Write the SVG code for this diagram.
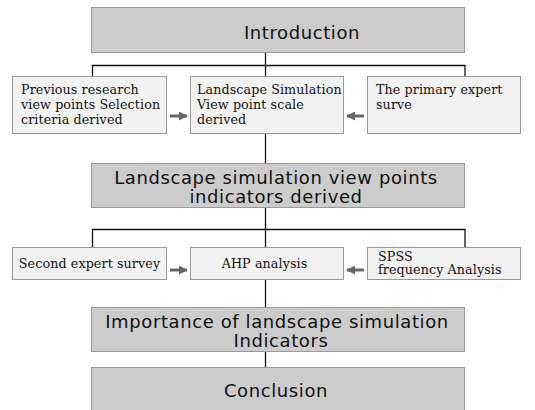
<svg xmlns="http://www.w3.org/2000/svg" width="535" height="410" viewBox="0 0 535 410">
<style>
.big{fill:#cccccc;stroke:#999999;stroke-width:1}
.small{fill:#f2f2f2;stroke:#999999;stroke-width:1}
.bt{font-family:"DejaVu Sans",sans-serif;font-size:18px;letter-spacing:0.6px;fill:#111;text-anchor:middle}
.st{font-family:"DejaVu Serif",serif;font-size:12.7px;letter-spacing:0.1px;fill:#111}
.c{fill:none;stroke:#111;stroke-width:1.3}
.a{stroke:#666;stroke-width:3;fill:none}
</style>
<defs>
<marker id="ah" viewBox="0 0 10 10" refX="9" refY="5" markerWidth="3" markerHeight="3" orient="auto" markerUnits="strokeWidth">
<path d="M0,0 L10,5 L0,10 z" fill="#666"/>
</marker>
</defs>
<rect width="535" height="410" fill="#fff"/>
<g id="connectors">
<path class="c" d="M265.5,53 V76 M92.5,76 V65.5 H465 V76 M265.5,134 V163 M265.5,208 V247 M92.5,247 V229.5 H465 V247 M265.5,279 V307 M265.5,352 V367"/>
<line class="a" x1="170" y1="116" x2="187" y2="116" marker-end="url(#ah)"/>
<line class="a" x1="364" y1="116" x2="347" y2="116" marker-end="url(#ah)"/>
<line class="a" x1="170" y1="270" x2="187" y2="270" marker-end="url(#ah)"/>
<line class="a" x1="364" y1="270" x2="347" y2="270" marker-end="url(#ah)"/>
</g>
<g id="intro">
<rect class="big" x="91.5" y="7.5" width="373" height="45"/>
<text class="bt" x="302" y="39">Introduction</text>
</g>
<g id="prev">
<rect class="small" x="12.5" y="76.5" width="154" height="57"/>
<text class="st"><tspan x="21" y="93.5">Previous research</tspan><tspan x="21" y="108.5">view points Selection</tspan><tspan x="21" y="123.5">criteria derived</tspan></text>
</g>
<g id="scale">
<rect class="small" x="190.5" y="76.5" width="153" height="57"/>
<text class="st"><tspan x="197" y="93.5">Landscape Simulation</tspan><tspan x="197" y="108.5">View point scale</tspan><tspan x="197" y="123.5">derived</tspan></text>
</g>
<g id="primary">
<rect class="small" x="367.5" y="76.5" width="153" height="57"/>
<text class="st"><tspan x="376" y="93.5">The primary expert</tspan><tspan x="376" y="108.5">surve</tspan></text>
</g>
<g id="indicators">
<rect class="big" x="91.5" y="163.5" width="373" height="44"/>
<text class="bt"><tspan x="276" y="184">Landscape simulation view points</tspan><tspan x="276" y="202.5">indicators derived</tspan></text>
</g>
<g id="second">
<rect class="small" x="12.5" y="247.5" width="154" height="32"/>
<text class="st" x="89.5" y="268" text-anchor="middle">Second expert survey</text>
</g>
<g id="ahp">
<rect class="small" x="190.5" y="247.5" width="153" height="32"/>
<text class="st" x="264.5" y="268" text-anchor="middle">AHP analysis</text>
</g>
<g id="spss">
<rect class="small" x="367.5" y="247.5" width="153" height="32"/>
<text class="st"><tspan x="378" y="261">SPSS</tspan><tspan x="378" y="273.5">frequency Analysis</tspan></text>
</g>
<g id="importance">
<rect class="big" x="91.5" y="307.5" width="373" height="44"/>
<text class="bt"><tspan x="277" y="328">Importance of landscape simulation</tspan><tspan x="281" y="346.5">Indicators</tspan></text>
</g>
<g id="conclusion">
<rect class="big" x="91.5" y="367.5" width="373" height="50"/>
<text class="bt" x="276" y="397">Conclusion</text>
</g>
</svg>
